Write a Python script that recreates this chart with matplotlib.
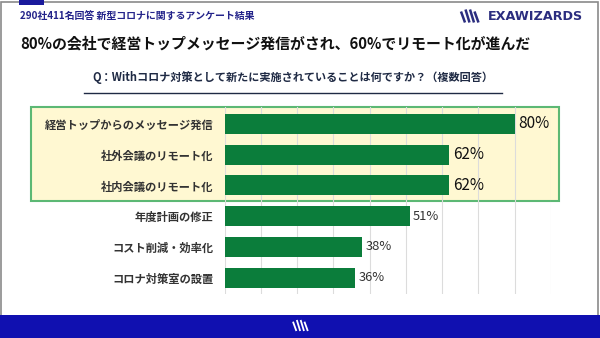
import matplotlib
matplotlib.use("Agg")
import matplotlib.pyplot as plt
from matplotlib.patches import Rectangle
from matplotlib.lines import Line2D

plt.rcParams['font.family'] = ['Noto Sans CJK JP', 'DejaVu Sans']

categories = ["経営トップからのメッセージ発信", "社外会議のリモート化", "社内会議のリモート化",
              "年度計画の修正", "コスト削減・効率化", "コロナ対策室の設置"]
values = [0.80, 0.62, 0.62, 0.51, 0.38, 0.36]
value_labels = ["80%", "62%", "62%", "51%", "38%", "36%"]
highlighted = [True, True, True, False, False, False]

header = "290社411名回答 新型コロナに関するアンケート結果"
title = "80%の会社で経営トップメッセージ発信がされ、60%でリモート化が進んだ"
question = "Q：Withコロナ対策として新たに実施されていることは何ですか？（複数回答）"
brand = "EXAWIZARDS"

W, H = 600, 338
fig = plt.figure(figsize=(6, 3.38), dpi=100)
fig.patch.set_facecolor("white")

def fx(x): return x / W
def fy(y): return 1 - y / H

# frame
fig.add_artist(Rectangle((fx(1), fy(336)), fx(597), 334 / H, transform=fig.transFigure,
                         fill=False, edgecolor="#8a8a8a", lw=1.2, zorder=0))
# top small blue tab
fig.add_artist(Rectangle((fx(19), fy(4.5)), fx(25), 4.5 / H, transform=fig.transFigure,
                         facecolor="#1a1a9c", edgecolor="none", zorder=1))
# bottom band
fig.add_artist(Rectangle((0, 0), 1, 23.5 / H, transform=fig.transFigure,
                         facecolor="#1010b0", edgecolor="none", zorder=1))

def draw_logo(x0, y0, h, color, lw):
    offs = [0, 4.5, 9, 13.5]
    scale = h / 13
    for i, o in enumerate(offs):
        top = y0 + (2 if i in (0, 3) else 0) * scale
        fig.add_artist(Line2D([fx(x0 + o * scale), fx(x0 + (o + 4) * scale)],
                              [fy(top), fy(y0 + h)], transform=fig.transFigure,
                              color=color, lw=lw, solid_capstyle="butt", zorder=3))

draw_logo(461, 9.5, 13, "#2b2d7f", 1.8)
draw_logo(293, 320, 11, "white", 1.3)

fig.text(fx(488), fy(16.5), brand, fontsize=9.2, fontweight="bold", color="#2b2d7f",
         va="center", ha="left", family="DejaVu Sans")

fig.text(fx(20), fy(17), header, fontsize=7.15, fontweight="bold", color="#23238a",
         va="center", ha="left")
fig.text(fx(20), fy(43.5), title, fontsize=10.75, fontweight="bold", color="#111111",
         va="center", ha="left")
fig.text(fx(293), fy(77), question, fontsize=8.0, fontweight="bold", color="#1f2a44",
         va="center", ha="center")
fig.add_artist(Line2D([fx(84), fx(502)], [fy(92.5), fy(92.5)], transform=fig.transFigure,
                      color="#1f2a44", lw=1.0))

# highlight box
fig.add_artist(Rectangle((fx(31), fy(200.7)), fx(559 - 31), 94 / H, transform=fig.transFigure,
                         facecolor="#fff8d2", edgecolor="#5cb874", lw=1.5, zorder=1))

ax = fig.add_axes([fx(224.6), fy(294), fx(551 - 224.6), (294 - 107) / H])
ax.set_facecolor("none")
ax.set_zorder(2)
y = list(range(len(categories)))
ax.barh(y, values, height=0.65, color="#0b7d3b", zorder=3)
ax.set_xlim(0, 0.9)
ax.set_ylim(len(categories) - 0.47, -0.55)
ax.set_xticks([i / 10 for i in range(10)])
ax.xaxis.grid(True, color="#dcdcdc", lw=0.8, zorder=0)
ax.tick_params(axis="x", length=0, labelbottom=False)
ax.set_yticks(y)
ax.set_yticklabels(categories, fontsize=8.1, fontweight="bold", color="#333333")
ax.tick_params(axis="y", length=0, pad=8)
for s in ax.spines.values():
    s.set_visible(False)

for yi, v, lab, hl in zip(y, values, value_labels, highlighted):
    ax.annotate(lab, (v, yi), xytext=(2.5, 0), textcoords="offset points",
                va="center", ha="left", fontsize=11 if hl else 9.3,
                color="#111111" if hl else "#333333")

fig.savefig("out.png", dpi=100)
